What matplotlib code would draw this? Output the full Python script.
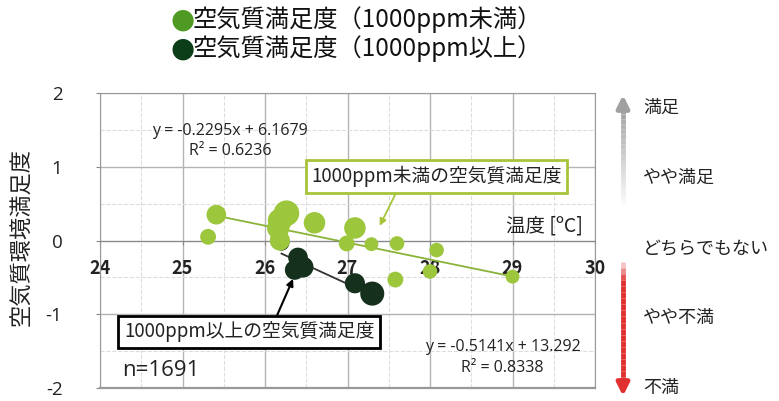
import numpy as np
import matplotlib
matplotlib.use("Agg")
import matplotlib.pyplot as plt
from matplotlib.ticker import MultipleLocator

plt.rcParams['font.family'] = ['Noto Sans CJK JP', 'DejaVu Sans']
plt.rcParams['axes.unicode_minus'] = False

# data
low_temp = [25.41, 25.31, 26.26, 26.18, 26.18, 26.16, 26.60, 27.09, 26.99, 27.29, 27.60, 27.58, 28.08, 28.00, 29.00]
low_sat = [0.35, 0.05, 0.37, 0.27, 0.00, 0.17, 0.24, 0.17, -0.04, -0.05, -0.04, -0.53, -0.13, -0.42, -0.49]
low_n = [200, 130, 340, 300, 210, 260, 240, 240, 130, 100, 110, 130, 110, 110, 100]

high_temp = [26.20, 26.40, 26.46, 26.36, 27.09, 27.30]
high_sat = [-0.03, -0.23, -0.36, -0.40, -0.58, -0.72]
high_n = [130, 200, 230, 200, 210, 300]

low_fit = (-0.2295, 6.1679, 0.6236)
high_fit = (-0.5141, 13.292, 0.8338)

x_ticks = [24, 25, 26, 27, 28, 29, 30]
y_ticks = [-2, -1, 0, 1, 2]
scale_labels = ['満足', 'やや満足', 'どちらでもない', 'やや不満', '不満']

green = '#9cc63b'
dark = '#15301c'

fig = plt.figure(figsize=(7.79, 4.01), dpi=100)
ax = fig.add_axes([100 / 779, 13 / 401, 495 / 779, 295 / 401])

ax.set_xlim(24, 30)
ax.set_ylim(-2, 2)
ax.xaxis.set_minor_locator(MultipleLocator(0.5))
ax.yaxis.set_minor_locator(MultipleLocator(0.5))
ax.set_xticks(x_ticks)
ax.set_yticks(y_ticks)
ax.grid(which='major', color='#b4b4b4', lw=1)
ax.grid(which='minor', color='#dddddd', lw=0.8, ls='--')
ax.set_axisbelow(True)

for s in ['top', 'left', 'right']:
    ax.spines[s].set_color('#999999')
ax.spines['bottom'].set_position(('data', 0))
ax.spines['bottom'].set_color('#888888')
ax.axhline(-2, color='#999999', lw=1.6, clip_on=False)
ax.tick_params(axis='x', length=3, colors='#888888', labelcolor='#222222', labelsize=13, pad=10)
ax.tick_params(axis='y', length=3, colors='#888888', labelcolor='#222222', labelsize=13.5, pad=24)
ax.tick_params(which='minor', length=0)
for lab in ax.get_xticklabels():
    lab.set_fontweight('bold')
for lab in ax.get_yticklabels():
    lab.set_family('Open Sans')

# trend lines
xl = np.array([min(low_temp), max(low_temp)])
ax.plot(xl, low_fit[0] * xl + low_fit[1], color='#8ab33a', lw=1.3, zorder=2)
xh = np.array([min(high_temp), max(high_temp)])
ax.plot(xh, high_fit[0] * xh + high_fit[1], color='#333333', lw=1.3, zorder=2)

ax.scatter(high_temp, high_sat, s=high_n, color=dark, zorder=3, linewidths=0)
ax.scatter(low_temp, low_sat, s=low_n, color=green, zorder=4, linewidths=0)

eq_style = dict(ha='center', va='center', fontsize=11.5, family='Open Sans', color='#222222')
ax.text(25.58, 1.49, f'y = {low_fit[0]}x + {low_fit[1]}', **eq_style)
ax.text(25.58, 1.21, f'R² = {low_fit[2]}', **eq_style)
ax.text(28.88, -1.45, f'y = {high_fit[0]}x + {high_fit[1]}', **eq_style)
ax.text(28.88, -1.73, f'R² = {high_fit[2]}', **eq_style)

ax.annotate('1000ppm未満の空気質満足度', xy=(27.39, 0.2), xytext=(28.08, 0.87),
            ha='center', va='center', fontsize=13.5, color='#222222',
            bbox=dict(boxstyle='square,pad=0.3', fc='white', ec='#a6c43a', lw=2),
            arrowprops=dict(arrowstyle='-|>', color='#a6c43a', lw=1.3,
                            shrinkA=0, shrinkB=0, mutation_scale=10,
                            relpos=(0.35, 0)), zorder=6)
ax.annotate('1000ppm以上の空気質満足度', xy=(26.34, -0.52), xytext=(25.81, -1.24),
            ha='center', va='center', fontsize=13.5, color='#222222',
            bbox=dict(boxstyle='square,pad=0.3', fc='white', ec='black', lw=2),
            arrowprops=dict(arrowstyle='-|>', color='black', lw=1.5,
                            shrinkA=0, shrinkB=0, mutation_scale=10,
                            relpos=(0.6, 1)), zorder=6)

ax.text(24.27, -1.76, 'n=1691', ha='left', va='center', fontsize=16,
        family='Open Sans', color='#222222')
ax.text(29.85, 0.2, '温度 [ºC]', ha='right', va='center', fontsize=14, color='#222222')

fig.text(22 / 779, 1 - 237 / 401, '空気質環境満足度', rotation=90, ha='center', va='center',
         fontsize=16, color='#222222')

# legend at top
fig.text(170 / 779, 1 - 20 / 401, '●', color='#4e9a22', fontsize=20, ha='left', va='center',
         family='DejaVu Sans')
fig.text(193 / 779, 1 - 20 / 401, '空気質満足度（1000ppm未満）', fontsize=17.5, ha='left', va='center',
         color='#111111')
fig.text(170 / 779, 1 - 49 / 401, '●', color='#0c3d19', fontsize=20, ha='left', va='center',
         family='DejaVu Sans')
fig.text(193 / 779, 1 - 49 / 401, '空気質満足度（1000ppm以上）', fontsize=17.5, ha='left', va='center',
         color='#111111')

# satisfaction scale on the right
label_y = [108, 178, 248, 318, 388]
for lab, py in zip(scale_labels, label_y):
    fig.text(643 / 779, 1 - py / 401, lab, fontsize=13, ha='left', va='center', color='#222222')

ax_r = fig.add_axes([0, 0, 1, 1])
ax_r.set_xlim(0, 779)
ax_r.set_ylim(401, 0)
ax_r.axis('off')
# gray arrow fading downward
n_seg = 20
ys = np.linspace(205, 104, n_seg + 1)
for i in range(n_seg):
    ax_r.plot([623, 623], [ys[i], ys[i + 1]], color='#a0a0a0', lw=3.5,
              alpha=(i + 1) / n_seg, solid_capstyle='butt')
ax_r.annotate('', xy=(623, 95), xytext=(623, 106),
              arrowprops=dict(arrowstyle='-|>', color='#a0a0a0', lw=3.5, mutation_scale=18,
                              shrinkA=0, shrinkB=0))
# red arrow fading upward
ys = np.linspace(262, 383, n_seg + 1)
for i in range(n_seg):
    ax_r.plot([623, 623], [ys[i], ys[i + 1]], color='#e03030', lw=3.5,
              alpha=min(1, (i + 1) / (n_seg * 0.18)), solid_capstyle='butt')
ax_r.annotate('', xy=(623, 396), xytext=(623, 382),
              arrowprops=dict(arrowstyle='-|>', color='#e03030', lw=3.5, mutation_scale=18,
                              shrinkA=0, shrinkB=0))

fig.savefig('out.png', dpi=100)
